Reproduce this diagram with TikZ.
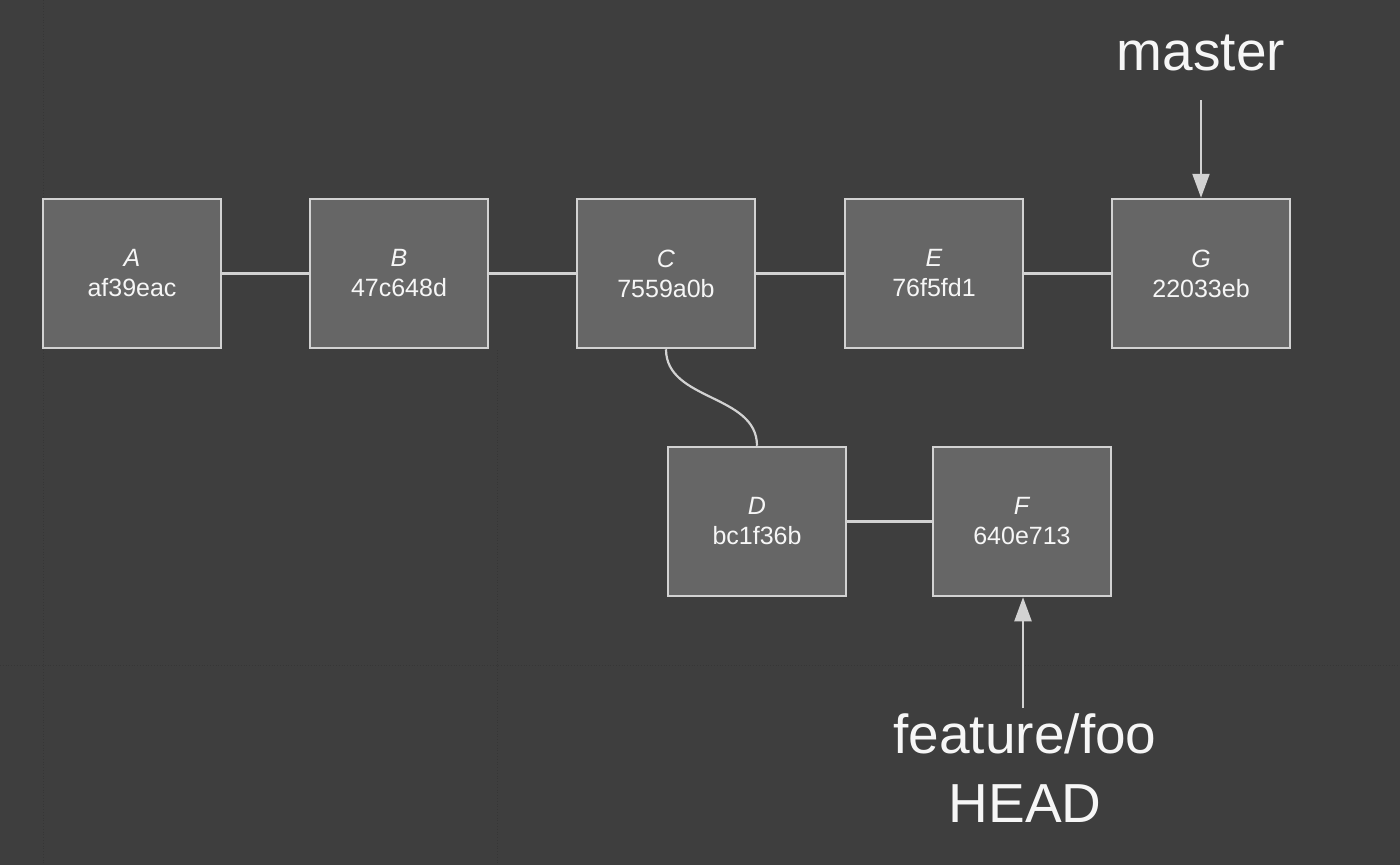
\documentclass[tikz,border=0pt]{standalone}
\usepackage{fontspec}
\setmainfont{Liberation Sans}
\usetikzlibrary{arrows.meta}
\definecolor{bgc}{HTML}{3E3E3E}
\definecolor{gridc}{HTML}{363636}
\definecolor{boxfill}{HTML}{666666}
\definecolor{boxline}{HTML}{D2D2D2}
\definecolor{txt}{HTML}{F6F6F6}
\tikzset{
  commit/.style={draw=boxline, fill=boxfill, line width=2.5pt, minimum width=178pt, minimum height=149pt,
    inner sep=0pt, align=center, text=txt, font=\fontsize{25}{30}\selectfont},
  link/.style={draw=boxline, line width=2.2pt},
  ptr/.style={draw=boxline, line width=2.2pt, -{Triangle[length=24pt,width=17pt]}},
  reflabel/.style={text=txt, font=\fontsize{55}{69}\selectfont, inner sep=0pt, anchor=base}
}
\begin{document}
\begin{tikzpicture}[x=1pt,y=-1pt]
\fill[bgc] (0,0) rectangle (1400,865);
\useasboundingbox (0,0) rectangle (1400,865);
% faint background grid
\draw[gridc, line width=0.8pt, dotted] (43,0) -- (43,865);
\draw[gridc, line width=0.8pt, dotted] (497,350) -- (497,865);
\draw[gridc, line width=0.8pt, dotted] (0,665) -- (1400,665);

\node[commit] (A) at (132,273.5) {\textit{A}\\af39eac};
\node[commit] (B) at (399,273.5) {\textit{B}\\47c648d};
\node[commit] (C) at (666,273.5) {\textit{C}\\7559a0b};
\node[commit] (E) at (934,273.5) {\textit{E}\\76f5fd1};
\node[commit] (G) at (1201,273.5) {\textit{G}\\22033eb};
\node[commit] (D) at (757,521.5) {\textit{D}\\bc1f36b};
\node[commit] (F) at (1022,521.5) {\textit{F}\\640e713};

\draw[link] (A) -- (B);
\draw[link] (B) -- (C);
\draw[link] (C) -- (E);
\draw[link] (E) -- (G);
\draw[link] (D) -- (F);
\draw[link] (C.south) .. controls ++(0,52) and ++(0,-52) .. (D.north);

\node[reflabel] (master) at (1201,70) {master};
\coordinate (mstart) at (1201,100);
\draw[ptr] (mstart) -- (G.north);

\node[reflabel] (feat) at (1025,753) {feature/foo};
\node[reflabel] (head) at (1025,822) {HEAD};
\coordinate (fstart) at (1023,708);
\draw[ptr] (fstart) -- (F.south -| fstart);
\end{tikzpicture}
\end{document}
